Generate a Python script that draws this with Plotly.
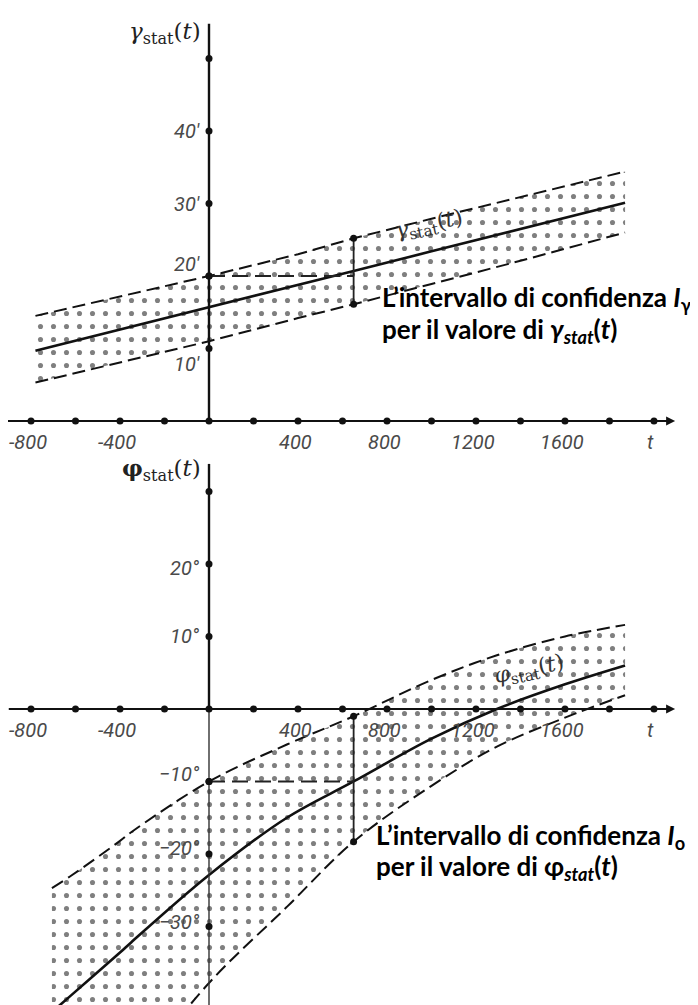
import plotly.graph_objects as go

# ---------------- data ----------------
x_ticks = [-800, -600, -400, -200, 0, 200, 400, 600, 800, 1000, 1200, 1400, 1600, 1800, 2000]
x_label_vals = [-800, -400, 400, 800, 1200, 1600, 2000]
x_label_text = ["-800", "-400", "400", "800", "1200", "1600", "t"]

# top panel: gamma_stat(t) in arc-minutes
g_tick_vals = [10, 20, 30, 40, 50]
g_label_vals = [10, 20, 30, 40]
g_label_text = ["10′", "20′", "30′", "40′"]
t_gamma = [-780, -400, 0, 400, 650, 1000, 1400, 1870]
gamma_main = [9.7, 12.6, 15.7, 18.8, 20.7, 23.4, 26.5, 30.1]
gamma_upper = [14.5, 17.2, 20.0, 23.0, 25.2, 27.9, 30.9, 34.4]
gamma_lower = [5.3, 8.1, 11.0, 14.2, 16.1, 18.9, 22.1, 26.0]
gamma_t0 = 650          # time of the illustrated confidence interval
gamma_ref = 20          # level of horizontal dashed reference
gamma_int = [25.2, 16.1]

# bottom panel: phi_stat(t) in degrees
p_tick_vals = [-30, -20, -10, 10, 20, 30]
p_label_vals = [-30, -20, -10, 10, 20]
p_label_text = ["−30°", "−20°", "−10°", "10°", "20°"]
t_phi = [-706, -620, -400, -350, 0, 350, 650, 1000, 1294, 1600, 1870]
phi_main = [-41.8, -39.5, -33.6, -32.2, -22.9, -15.0, -10.0, -4.1, 0.0, 3.4, 6.0]
phi_upper = [-24.7, -23.0, -18.2, -17.0, -10.0, -4.9, -1.0, 4.0, 7.4, 10.0, 11.6]
phi_lower = [-62.0, -60.0, -53.0, -51.0, -37.8, -27.3, -18.3, -10.6, -5.2, -1.2, 1.9]
phi_t0 = 650
phi_ref = -10
phi_int = [-1.0, -18.3]

# ---------------- figure ----------------
INK = "#111111"
GREY = "#4a4a4a"
TICKFONT = dict(family="Liberation Sans Narrow, Roboto, sans-serif", size=20, color=GREY)
NOTEFONT = dict(family="Lato, Open Sans, sans-serif", size=26, color="#000000", weight="bold")
MATHFONT = dict(family="DejaVu Serif, serif", size=23, color="#222222")

fig = go.Figure()


def add_panel(xa, ya, t, main, up, lo, ymin, ymax, ytick_vals, t0, ref, interval, xaxis_from, shape):
    # dotted confidence band
    fig.add_trace(go.Scatter(x=t, y=up, mode="lines", line=dict(width=0, color="rgba(0,0,0,0)", shape=shape),
                             xaxis=xa, yaxis=ya, showlegend=False, hoverinfo="skip"))
    fig.add_trace(go.Scatter(x=t, y=lo, mode="lines", line=dict(width=0, color="rgba(0,0,0,0)", shape=shape),
                             fill="tonexty", fillcolor="rgba(0,0,0,0)",
                             fillpattern=dict(shape=".", size=13, solidity=0.12,
                                              fgcolor="#000000", bgcolor="rgba(255,255,255,0)"),
                             xaxis=xa, yaxis=ya, showlegend=False, hoverinfo="skip"))
    # dashed boundaries
    for b in (up, lo):
        fig.add_trace(go.Scatter(x=t, y=b, mode="lines",
                                 line=dict(color=INK, width=2, dash="13px,6px", shape=shape),
                                 xaxis=xa, yaxis=ya, showlegend=False, hoverinfo="skip"))
    # main estimate
    fig.add_trace(go.Scatter(x=t, y=main, mode="lines", line=dict(color=INK, width=2.6, shape=shape),
                             xaxis=xa, yaxis=ya, showlegend=False, hoverinfo="skip"))
    # axes drawn as lines
    fig.add_trace(go.Scatter(x=[xaxis_from, 2080], y=[0, 0], mode="lines",
                             line=dict(color=INK, width=2), xaxis=xa, yaxis=ya,
                             showlegend=False, hoverinfo="skip"))
    fig.add_trace(go.Scatter(x=[0, 0], y=[0, ymax], mode="lines",
                             line=dict(color=INK, width=2.4), xaxis=xa, yaxis=ya,
                             showlegend=False, hoverinfo="skip"))
    if ymin < 0:
        fig.add_trace(go.Scatter(x=[0, 0], y=[ymin, 0], mode="lines",
                                 line=dict(color="#333333", width=1.4), xaxis=xa, yaxis=ya,
                                 showlegend=False, hoverinfo="skip"))
    # tick dots
    fig.add_trace(go.Scatter(x=x_ticks, y=[0] * len(x_ticks), mode="markers",
                             marker=dict(color=INK, size=7), xaxis=xa, yaxis=ya,
                             showlegend=False, hoverinfo="skip"))
    fig.add_trace(go.Scatter(x=[0] * len(ytick_vals), y=ytick_vals, mode="markers",
                             marker=dict(color=INK, size=7), xaxis=xa, yaxis=ya,
                             showlegend=False, hoverinfo="skip"))
    # illustrated interval
    fig.add_trace(go.Scatter(x=[0, t0], y=[ref, ref], mode="lines",
                             line=dict(color="#222222", width=2, dash="16px,7px"),
                             xaxis=xa, yaxis=ya, showlegend=False, hoverinfo="skip"))
    fig.add_trace(go.Scatter(x=[t0, t0], y=interval, mode="lines+markers",
                             line=dict(color="#222222", width=1.8), marker=dict(color=INK, size=7),
                             xaxis=xa, yaxis=ya, showlegend=False, hoverinfo="skip"))
    fig.add_trace(go.Scatter(x=[0], y=[ref], mode="markers", marker=dict(color=INK, size=7),
                             xaxis=xa, yaxis=ya, showlegend=False, hoverinfo="skip"))
    # x tick labels
    xr = "x" if xa == "x" else "x2"
    yr = "y" if ya == "y" else "y2"
    for v, s in zip(x_label_vals, x_label_text):
        fig.add_annotation(x=v, y=0, xref=xr, yref=yr, text="<i>%s</i>" % s, showarrow=False,
                           xanchor="center", yanchor="top", yshift=-7, xshift=-3, font=TICKFONT)
    # arrow at end of t axis
    fig.add_annotation(x=2095, y=0, ax=2030, ay=0, xref=xr, yref=yr, axref=xr, ayref=yr,
                       text="", showarrow=True, arrowhead=2, arrowsize=1.2, arrowwidth=1.5,
                       arrowcolor=INK)
    return xr, yr


# top panel
xr, yr = add_panel("x", "y", t_gamma, gamma_main, gamma_upper, gamma_lower,
                   0, 54.8, g_tick_vals, gamma_t0, gamma_ref, gamma_int, -920, "linear")
g_shift = {10: -15, 20: 12, 30: 0, 40: 0}
for v, s in zip(g_label_vals, g_label_text):
    fig.add_annotation(x=0, y=v, xref=xr, yref=yr, text="<i>%s</i>" % s, showarrow=False,
                       xanchor="right", yanchor="middle", xshift=-7, yshift=g_shift[v], font=TICKFONT)
fig.add_annotation(x=0, y=53.5, xref=xr, yref=yr, showarrow=False, xanchor="right", yanchor="middle",
                   xshift=-6, text="<i>γ</i><sub>stat</sub>(<i>t</i>)", font=MATHFONT)
fig.add_annotation(x=990, y=26.9, xref=xr, yref=yr, showarrow=False, textangle=-12,
                   text="<i>γ</i><sub>stat</sub>(<i>t</i>)",
                   font=dict(family="DejaVu Serif, serif", size=22, color="#333333"))
fig.add_annotation(x=768, y=16.9, xref=xr, yref=yr, showarrow=False, xanchor="left", yanchor="middle",
                   text="L’intervallo di confidenza <i>I</i><sub>γ</sub>", font=NOTEFONT)
fig.add_annotation(x=768, y=12.5, xref=xr, yref=yr, showarrow=False, xanchor="left", yanchor="middle",
                   text="per il valore di <i>γ<sub>stat</sub></i>(<i>t</i>)", font=NOTEFONT)

# bottom panel
xr, yr = add_panel("x2", "y2", t_phi, phi_main, phi_upper, phi_lower,
                   -41, 33.8, p_tick_vals, phi_t0, phi_ref, phi_int, -900, "spline")
p_shift = {-30: 4, -20: 6, -10: 7, 10: 0, 20: -4}
for v, s in zip(p_label_vals, p_label_text):
    fig.add_annotation(x=0, y=v, xref=xr, yref=yr, text="<i>%s</i>" % s, showarrow=False,
                       xanchor="right", yanchor="middle", xshift=-7, yshift=p_shift[v], font=TICKFONT)
fig.add_annotation(x=0, y=33.0, xref=xr, yref=yr, showarrow=False, xanchor="right", yanchor="middle",
                   xshift=-6, text="<b>φ</b><sub>stat</sub>(<i>t</i>)", font=MATHFONT)
fig.add_annotation(x=1440, y=5.3, xref=xr, yref=yr, showarrow=False, textangle=-12,
                   text="<i>φ</i><sub>stat</sub>(<i>t</i>)",
                   font=dict(family="DejaVu Serif, serif", size=22, color="#333333"))
fig.add_annotation(x=740, y=-17.6, xref=xr, yref=yr, showarrow=False, xanchor="left", yanchor="middle",
                   text="L’intervallo di confidenza <i>I</i><sub>ο</sub>", font=NOTEFONT)
fig.add_annotation(x=740, y=-21.8, xref=xr, yref=yr, showarrow=False, xanchor="left", yanchor="middle",
                   text="per il valore di <b>φ</b><sub><i>stat</i></sub>(<i>t</i>)", font=NOTEFONT)

# the page body adds an 8px offset, so the figure is 690x997 and mapped accordingly
W, H = 690, 997
split = 1 - 452 / H
hidden = dict(visible=False, showgrid=False, zeroline=False, fixedrange=True)
fig.update_layout(
    width=W, height=H, margin=dict(l=0, r=0, t=0, b=0),
    paper_bgcolor="white", plot_bgcolor="white", showlegend=False,
    xaxis=dict(domain=[0, 1], range=[-903.4, 2197.8], anchor="y", **hidden),
    yaxis=dict(domain=[split, 1], range=[-5.38, 56.97], anchor="x", **hidden),
    xaxis2=dict(domain=[0, 1], range=[-903.4, 2197.8], anchor="y2", **hidden),
    yaxis2=dict(domain=[0, split], range=[-40.83, 34.34], anchor="x2", **hidden),
)

fig.write_html("out.html")
